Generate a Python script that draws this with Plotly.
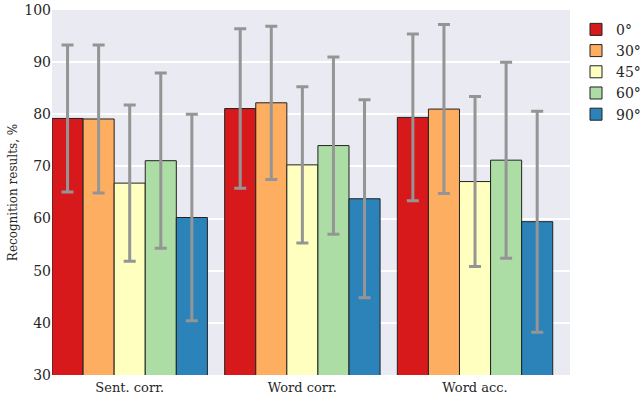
import plotly.graph_objects as go

categories = ["Sent. corr.", "Word corr.", "Word acc."]
angles = ["0°", "30°", "45°", "60°", "90°"]
colors = ["#d7191c", "#fdae61", "#ffffbf", "#abdda4", "#2b83ba"]

# mean per angle, for each category
mean_0 = [79.2, 81.1, 79.4]
mean_30 = [79.1, 82.2, 81.0]
mean_45 = [66.8, 70.3, 67.1]
mean_60 = [71.1, 74.0, 71.2]
mean_90 = [60.2, 63.8, 59.4]

# standard deviations (symmetric error bars)
err_0 = [14.1, 15.3, 16.0]
err_30 = [14.2, 14.7, 16.2]
err_45 = [15.0, 15.0, 16.3]
err_60 = [16.8, 17.0, 18.8]
err_90 = [19.8, 19.0, 21.2]

means = [mean_0, mean_30, mean_45, mean_60, mean_90]
errs = [err_0, err_30, err_45, err_60, err_90]

FONT = "DejaVu Serif"

fig = go.Figure()
for name, color, m, e in zip(angles, colors, means, errs):
    fig.add_trace(go.Bar(
        x=categories,
        y=m,
        name=name,
        marker=dict(color=color, line=dict(color="#222222", width=1)),
        error_y=dict(type="data", array=e, visible=True,
                     color="#959595", thickness=3, width=6),
    ))

fig.update_layout(
    barmode="group",
    bargap=0.1,
    bargroupgap=0,
    width=640,
    height=394,
    margin=dict(l=52, r=70, t=10, b=19),
    paper_bgcolor="white",
    plot_bgcolor="#eaeaf2",
    font=dict(family=FONT, size=13, color="#262626"),
    xaxis=dict(range=[-0.45, 2.55], showgrid=False, ticks="", automargin=False,
               tickfont=dict(size=13), ticklabelstandoff=3),
    yaxis=dict(range=[30, 100], dtick=10, gridcolor="white", gridwidth=1.5,
               zeroline=False, ticks="", automargin=False,
               tickfont=dict(size=14),
               title=dict(text="Recognition results, %", font=dict(size=12), standoff=4)),
    legend=dict(xref="container", yref="container", x=0.9, y=0.965,
                xanchor="left", yanchor="top",
                font=dict(size=14), tracegroupgap=0),
)

# drop the default body margin so the figure sits at the page corner
fig.write_html("out.html", config={"displayModeBar": False},
               post_script="document.body.style.margin='0';")
